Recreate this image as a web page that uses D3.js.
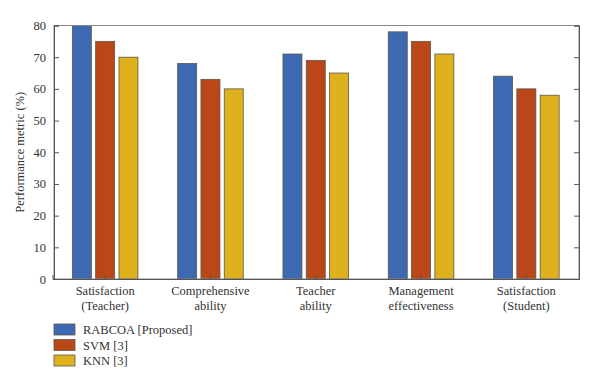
<!DOCTYPE html>
<html>
<head>
<meta charset="utf-8">
<script src="https://cdn.jsdelivr.net/npm/d3@7"></script>
<style>
  body { margin: 0; background: #fff; }
  text { font-family: "Liberation Serif", "DejaVu Serif", serif; fill: #333; }
</style>
</head>
<body>
<script>
const categories = [
  ['Satisfaction', '(Teacher)'],
  ['Comprehensive', 'ability'],
  ['Teacher', 'ability'],
  ['Management', 'effectiveness'],
  ['Satisfaction', '(Student)']
]
const seriesNames = ['RABCOA [Proposed]', 'SVM [3]', 'KNN [3]']
const rabcoa = [80, 68, 71, 78, 64]
const svmVals = [75, 63, 69, 75, 60]
const knn = [70, 60, 65, 71, 58]
const yTicks = [0, 10, 20, 30, 40, 50, 60, 70, 80]
const colors = ['#3d69b2', '#bb4718', '#deb11d']

const series = [rabcoa, svmVals, knn]

const margin = { top: 25.5, right: 21, bottom: 109, left: 54 }
const width = 600 - margin.left - margin.right
const height = 388 - margin.top - margin.bottom

const svg = d3.select('body').append('svg')
    .attr('width', 600)
    .attr('height', 388)
  .append('g')
    .attr('transform', `translate(${margin.left}, ${margin.top})`)

const x = d3.scaleBand()
  .domain(d3.range(categories.length))
  .range([-1.5, width])

const x1 = d3.scaleBand()
  .domain(d3.range(series.length))
  .range([-32.8, 32.8])
  .paddingInner(0.185)

const y = d3.scaleLinear()
  .domain([0, 80])
  .range([height, 0])

// bars
series.forEach((vals, s) => {
  svg.selectAll('.bar' + s)
      .data(vals)
    .enter().append('rect')
      .attr('x', (d, i) => x(i) + x.bandwidth() / 2 + x1(s))
      .attr('y', d => y(d))
      .attr('width', x1.bandwidth())
      .attr('height', d => height - y(d))
      .attr('fill', colors[s])
      .attr('stroke', '#5b5648')
      .attr('stroke-width', 0.8)
})

// frame
svg.append('rect')
  .attr('width', width).attr('height', height)
  .attr('fill', 'none').attr('stroke', '#888').attr('stroke-width', 1)

const yAxis = svg.append('g')
  .call(d3.axisLeft(y).tickValues(yTicks).tickSize(-5).tickPadding(8))
yAxis.select('.domain').attr('stroke', '#555')
yAxis.selectAll('.tick line').attr('stroke', '#555')
yAxis.selectAll('.tick text').attr('font-size', 12.5).style('font-family', '"Liberation Serif", serif').attr('fill', '#333')

const yAxisR = svg.append('g')
  .attr('transform', `translate(${width},0)`)
  .call(d3.axisRight(y).tickValues(yTicks).tickSize(-5).tickFormat(''))
yAxisR.select('.domain').attr('stroke', '#555')
yAxisR.selectAll('.tick line').attr('stroke', '#555')

const xAxis = svg.append('g')
  .attr('transform', `translate(0,${height})`)
  .call(d3.axisBottom(x).tickSize(-4).tickFormat(''))
xAxis.select('.domain').attr('stroke', '#555')
xAxis.selectAll('.tick line').attr('stroke', '#555')

// category labels
const lab = svg.append('g').selectAll('text')
    .data(categories)
  .enter().append('text')
    .attr('text-anchor', 'middle')
    .attr('font-size', 12.5)
    .attr('transform', (d, i) => `translate(${x(i) + x.bandwidth() / 2},${height + 16})`)
lab.selectAll('tspan')
    .data(d => d)
  .enter().append('tspan')
    .attr('x', 0)
    .attr('dy', (d, j) => j === 0 ? 0 : 15)
    .text(d => d)

svg.append('text')
  .attr('transform', `translate(-30,${height / 2}) rotate(-90)`)
  .attr('text-anchor', 'middle')
  .attr('font-size', 12.5)
  .text('Performance metric (%)')

// legend
const legend = svg.append('g')
  .attr('transform', `translate(0,${height + 45})`)
const li = legend.selectAll('g')
    .data(seriesNames)
  .enter().append('g')
    .attr('transform', (d, i) => `translate(0,${i * 15.5})`)
li.append('rect')
  .attr('width', 21).attr('height', 11)
  .attr('fill', (d, i) => colors[i])
  .attr('stroke', '#5b5648').attr('stroke-width', 0.8)
li.append('text')
  .attr('x', 29).attr('y', 10)
  .attr('font-size', 12.5)
  .text(d => d)
</script>
</body>
</html>
